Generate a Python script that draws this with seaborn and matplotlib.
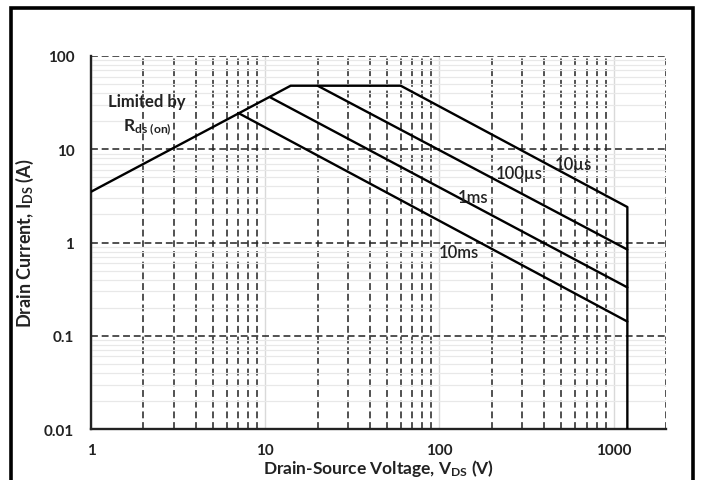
import matplotlib
matplotlib.use("Agg")
import matplotlib.pyplot as plt
import seaborn as sns
import pandas as pd
from matplotlib.patches import Rectangle
from matplotlib.ticker import FixedLocator, FixedFormatter, LogLocator, NullFormatter

# ---------------- data ----------------
# Safe operating area boundary (Rds(on) limit, current limit, 10us power limit, Vmax)
boundary_v = [1, 14, 60, 1200, 1200]
boundary_i = [3.5, 48, 48, 2.4, 0.01]
us100_v = [20, 1200]
us100_i = [48, 0.84]
ms1_v = [10.7, 1200]
ms1_i = [36, 0.33]
ms10_v = [7.0, 1200]
ms10_i = [24.5, 0.142]

x_ticks = [1, 10, 100, 1000]
x_tick_labels = ["1", "10", "100", "1000"]
y_ticks = [0.01, 0.1, 1, 10, 100]
y_tick_labels = ["0.01", "0.1", "1", "10", "100"]

curve_labels = ["10µs", "100µs", "1ms", "10ms"]
label_pos_v = [592, 289, 157, 130]
label_pos_i = [6.9, 5.6, 3.1, 0.80]

# ---------------- style ----------------
sns.set_style("white")
plt.rcParams["font.family"] = ["Lato", "DejaVu Sans"]
plt.rcParams["mathtext.fontset"] = "custom"
plt.rcParams["mathtext.rm"] = "Lato"
plt.rcParams["mathtext.bf"] = "Lato:bold"
plt.rcParams["mathtext.it"] = "Lato:italic"

fig = plt.figure(figsize=(7.03, 4.81), dpi=100)
ax = fig.add_axes([91 / 703, 1 - 430 / 481, (666 - 91) / 703, (430 - 57) / 481])

curves = [(boundary_v, boundary_i), (us100_v, us100_i), (ms1_v, ms1_i), (ms10_v, ms10_i)]
for vs, cs in curves:
    df = pd.DataFrame({"V": vs, "I": cs})
    sns.lineplot(data=df, x="V", y="I", sort=False, estimator=None, color="black",
                 lw=1.7, ax=ax, zorder=5)

ax.set_xscale("log")
ax.set_yscale("log")
ax.set_xlim(1, 2000)
ax.set_ylim(0.01, 100)

ax.xaxis.set_major_locator(FixedLocator(x_ticks))
ax.xaxis.set_major_formatter(FixedFormatter(x_tick_labels))
ax.yaxis.set_major_locator(FixedLocator(y_ticks))
ax.yaxis.set_major_formatter(FixedFormatter(y_tick_labels))
ax.xaxis.set_minor_locator(LogLocator(base=10, subs=range(2, 10), numticks=20))
ax.yaxis.set_minor_locator(LogLocator(base=10, subs=range(2, 10), numticks=20))
ax.xaxis.set_minor_formatter(NullFormatter())
ax.yaxis.set_minor_formatter(NullFormatter())
ax.tick_params(which="both", length=0)
ax.tick_params(axis="x", pad=10)
ax.tick_params(axis="y", pad=12)
for lab in ax.get_xticklabels() + ax.get_yticklabels():
    lab.set_fontweight("bold")
    lab.set_fontsize(11)
    lab.set_color("#222222")

dash = (0, (4.5, 2.5))
ax.grid(which="major", axis="y", color="#222222", lw=1.1, linestyle=dash)
ax.grid(which="minor", axis="y", color="#e8e8e8", lw=0.9, linestyle="-")
ax.grid(which="major", axis="x", color="#d9d9d9", lw=1.0, linestyle="-")
ax.grid(which="minor", axis="x", color="#222222", lw=1.1, linestyle=dash)
ax.set_axisbelow(True)

for s in ["top", "right"]:
    ax.spines[s].set_visible(False)
for s in ["left", "bottom"]:
    ax.spines[s].set_color("#222222")
    ax.spines[s].set_linewidth(1.7)

ax.set_xlabel(r"Drain-Source Voltage, V$_{\mathbf{DS}}$ (V)", fontsize=12.5, fontweight="bold",
              color="#222222")
ax.xaxis.set_label_coords(0.5, -0.074)
ax.set_ylabel(r"Drain Current, I$_{\mathbf{DS}}$ (A)", fontsize=13, fontweight="bold",
              color="#222222", labelpad=6)

for t, xv, yv in zip(curve_labels, label_pos_v, label_pos_i):
    ax.text(xv, yv, t, ha="center", va="center", fontsize=12, fontweight="semibold",
            color="#222222", zorder=6)

ax.text(2.1, 33, "Limited by", ha="center", va="center", fontsize=12, fontweight="bold", color="#222222")
ax.text(2.1, 17.5, r"R$_{\mathbf{ds\ (on)}}$", ha="center", va="center", fontsize=12.5,
        fontweight="bold", color="#222222")

fig.patches.append(Rectangle((11 / 703, -0.05), (693 - 11) / 703, 1.05 - 9 / 481,
                             transform=fig.transFigure, fill=False, lw=2.6, edgecolor="black"))

fig.savefig("out.png", dpi=100)
